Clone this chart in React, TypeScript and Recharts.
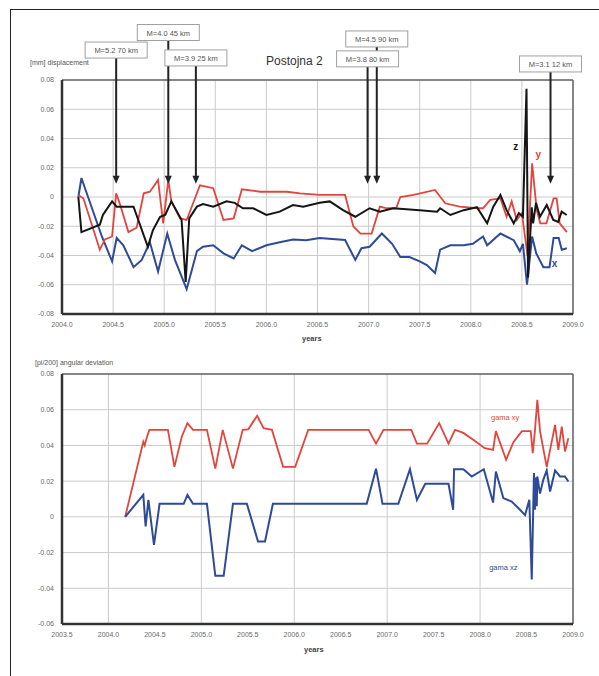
import React from 'react'
import { LineChart, Line, XAxis, YAxis, CartesianGrid, ReferenceLine, ReferenceDot } from 'recharts'

type Pt = [number, number]

// [year, displacement mm]
const dispX: Pt[] = [
  [2004.16, 0], [2004.19, 0.013], [2004.39, -0.027], [2004.49, -0.044], [2004.535, -0.028],
  [2004.6, -0.033], [2004.7, -0.048], [2004.78, -0.043], [2004.86, -0.031], [2004.94, -0.051],
  [2005.03, -0.025], [2005.105, -0.043], [2005.22, -0.063], [2005.32, -0.037], [2005.38, -0.034],
  [2005.48, -0.033], [2005.58, -0.0385], [2005.68, -0.042], [2005.76, -0.033], [2005.86, -0.037],
  [2006.0, -0.033], [2006.13, -0.031], [2006.26, -0.029], [2006.39, -0.0295], [2006.52, -0.028],
  [2006.77, -0.0294], [2006.87, -0.043], [2006.93, -0.035], [2007.01, -0.034], [2007.13, -0.025],
  [2007.23, -0.032], [2007.31, -0.041], [2007.4, -0.041], [2007.5, -0.044], [2007.57, -0.0465],
  [2007.65, -0.052], [2007.7, -0.036], [2007.8, -0.033], [2007.93, -0.033], [2008.02, -0.032],
  [2008.12, -0.027], [2008.16, -0.033], [2008.29, -0.025], [2008.42, -0.0295], [2008.48, -0.037],
  [2008.51, -0.032], [2008.55, -0.06], [2008.6, -0.027], [2008.64, -0.0385], [2008.71, -0.048],
  [2008.77, -0.048], [2008.81, -0.028], [2008.86, -0.028], [2008.89, -0.036], [2008.94, -0.035],
]

const dispY: Pt[] = [
  [2004.16, 0.0014], [2004.21, -0.001], [2004.37, -0.036], [2004.42, -0.029], [2004.49, -0.027],
  [2004.53, 0.0025], [2004.57, -0.0055], [2004.65, -0.024], [2004.73, -0.021], [2004.8, 0.0025],
  [2004.86, 0.0036], [2004.94, 0.0116], [2004.99, -0.018], [2005.04, 0.0116], [2005.07, -0.003],
  [2005.155, -0.0146], [2005.22, -0.0157], [2005.35, 0.008], [2005.48, 0.006], [2005.58, -0.0157],
  [2005.68, -0.0146], [2005.76, 0.0053], [2005.94, 0.0036], [2006.2, 0.0036], [2006.33, 0.0025],
  [2006.52, 0.0014], [2006.77, 0.0014], [2006.85, -0.02], [2006.92, -0.025], [2007.03, -0.025],
  [2007.11, -0.0066], [2007.18, -0.0077], [2007.27, -0.0077], [2007.31, 0], [2007.44, 0.0014],
  [2007.65, 0.0048], [2007.75, -0.0043], [2007.89, -0.0066], [2008.06, -0.0077], [2008.12, -0.0077],
  [2008.19, -0.002], [2008.29, -0.001], [2008.35, -0.0135], [2008.4, -0.003], [2008.45, -0.0157],
  [2008.5, -0.011], [2008.555, -0.04], [2008.6, 0.023], [2008.645, -0.009], [2008.68, -0.018],
  [2008.74, -0.018], [2008.81, -0.001], [2008.84, -0.001], [2008.87, -0.018], [2008.94, -0.024],
]

const dispZ: Pt[] = [
  [2004.16, 0], [2004.19, -0.024], [2004.37, -0.019], [2004.4, -0.0123], [2004.49, -0.003],
  [2004.535, -0.0066], [2004.7, -0.0066], [2004.84, -0.034], [2004.89, -0.0226], [2004.96, -0.0135],
  [2005.01, -0.0123], [2005.07, -0.003], [2005.17, -0.0157], [2005.21, -0.058], [2005.245, -0.0146],
  [2005.32, -0.0066], [2005.38, -0.0048], [2005.48, -0.0066], [2005.61, -0.003], [2005.69, -0.004],
  [2005.77, -0.0077], [2005.87, -0.0077], [2006.0, -0.0123], [2006.13, -0.01], [2006.26, -0.0055],
  [2006.36, -0.0066], [2006.52, -0.004], [2006.62, -0.003], [2006.75, -0.009], [2006.87, -0.0135],
  [2007.01, -0.0077], [2007.11, -0.01], [2007.24, -0.0077], [2007.5, -0.009], [2007.67, -0.01],
  [2007.7, -0.0077], [2007.8, -0.0123], [2007.93, -0.009], [2008.06, -0.007], [2008.16, -0.018],
  [2008.22, -0.0066], [2008.29, 0.0014], [2008.35, -0.009], [2008.42, -0.018], [2008.47, -0.011],
  [2008.51, -0.0135], [2008.545, 0.074], [2008.56, -0.055], [2008.596, -0.007], [2008.61, -0.018],
  [2008.638, -0.004], [2008.677, -0.0135], [2008.743, -0.0055], [2008.807, -0.0157], [2008.856, -0.017],
  [2008.889, -0.01], [2008.938, -0.0123],
]

// [year, angular deviation pi/200]
const gamaXY: Pt[] = [
  [2004.18, 0], [2004.375, 0.042], [2004.39, 0.04], [2004.41, 0.044], [2004.44, 0.0487],
  [2004.64, 0.0487], [2004.71, 0.028], [2004.79, 0.045], [2004.85, 0.0525], [2004.91, 0.0487],
  [2005.06, 0.0487], [2005.15, 0.027], [2005.23, 0.0487], [2005.34, 0.027], [2005.445, 0.0487],
  [2005.505, 0.049], [2005.6, 0.0566], [2005.67, 0.0497], [2005.76, 0.0487], [2005.88, 0.028],
  [2006.01, 0.028], [2006.15, 0.0487], [2006.8, 0.0487], [2006.88, 0.041], [2006.96, 0.0487],
  [2007.26, 0.0487], [2007.32, 0.041], [2007.43, 0.041], [2007.56, 0.0525], [2007.66, 0.041],
  [2007.73, 0.0487], [2007.82, 0.047], [2007.93, 0.043], [2008.05, 0.0385], [2008.14, 0.0375],
  [2008.17, 0.048], [2008.28, 0.032], [2008.36, 0.042], [2008.45, 0.048], [2008.545, 0.048],
  [2008.567, 0.0357], [2008.59, 0.048], [2008.616, 0.0655], [2008.645, 0.048], [2008.717, 0.028],
  [2008.807, 0.0515], [2008.842, 0.0375], [2008.879, 0.0505], [2008.914, 0.0366], [2008.95, 0.044],
]

const gamaXZ: Pt[] = [
  [2004.18, 0], [2004.375, 0.0123], [2004.4, -0.0054], [2004.43, 0.0095], [2004.49, -0.0157],
  [2004.55, 0.0073], [2004.81, 0.0073], [2004.85, 0.0123], [2004.91, 0.0073], [2005.06, 0.0073],
  [2005.15, -0.033], [2005.24, -0.033], [2005.34, 0.0073], [2005.49, 0.0073], [2005.61, -0.0138],
  [2005.685, -0.0138], [2005.77, 0.0073], [2006.78, 0.0073], [2006.88, 0.027], [2006.95, 0.0073],
  [2007.12, 0.0073], [2007.245, 0.0267], [2007.32, 0.0095], [2007.41, 0.0185], [2007.66, 0.0185],
  [2007.71, 0.004], [2007.72, 0.0267], [2007.82, 0.0267], [2007.91, 0.0226], [2008.04, 0.0267],
  [2008.14, 0.008], [2008.17, 0.0254], [2008.25, 0.0105], [2008.34, 0.0086], [2008.43, 0.004],
  [2008.484, 0.001], [2008.53, 0.0095], [2008.556, -0.035], [2008.58, 0.0245], [2008.59, 0.004],
  [2008.602, 0.022], [2008.61, 0.006], [2008.616, 0.0226], [2008.645, 0.013], [2008.68, 0.0207],
  [2008.717, 0.026], [2008.753, 0.0142], [2008.807, 0.026], [2008.86, 0.0226], [2008.914, 0.0226],
  [2008.95, 0.0198],
]

const topYears = [2004.0, 2004.5, 2005.0, 2005.5, 2006.0, 2006.5, 2007.0, 2007.5, 2008.0, 2008.5, 2009.0]
const bottomYears = [2003.5, 2004.0, 2004.5, 2005.0, 2005.5, 2006.0, 2006.5, 2007.0, 2007.5, 2008.0, 2008.5, 2009.0]
const displacementTicks = [-0.08, -0.06, -0.04, -0.02, 0, 0.02, 0.04, 0.06, 0.08]
const angularTicks = [-0.06, -0.04, -0.02, 0, 0.02, 0.04, 0.06, 0.08]

// earthquakes: label, year, top of arrow (mm scale)
const quakes = [
  { label: 'M=5.2 70 km', year: 2004.53, top: 0.095 },
  { label: 'M=4.0 45 km', year: 2005.04, top: 0.107 },
  { label: 'M=3.9 25 km', year: 2005.31, top: 0.0896 },
  { label: 'M=4.5 90 km', year: 2007.08, top: 0.1026 },
  { label: 'M=3.8 80 km', year: 2006.99, top: 0.089 },
  { label: 'M=3.1 12 km', year: 2008.78, top: 0.0855 },
]
const arrowTip = 0.009

const rows = (pts: Pt[]) => pts.map(([year, value]) => ({ year, value }))

const FONT = '"Liberation Sans", Arial, sans-serif'
const RED = '#e2453d'
const BLUE = '#2f4b98'
const tickStyle = { fontSize: 7, fill: '#6a6a6a', fontFamily: FONT }
const fmtY = (v: number) => (v === 0 ? '0' : v.toFixed(2))
const fmtX = (v: number) => v.toFixed(1)

const QuakeBox = (label: string) => (props: any) => {
  const { cx, cy } = props
  return (
    <g>
      <rect x={cx - 31} y={cy - 16} width={62} height={16} fill="#fff" stroke="#a0a0a0" />
      <text x={cx} y={cy - 5} textAnchor="middle" fontSize={7.5} fill="#555" fontFamily={FONT}>
        {label}
      </text>
    </g>
  )
}

const ArrowHead = (props: any) => {
  const { cx, cy } = props
  return <polygon points={`${cx - 3.5},${cy - 8} ${cx + 3.5},${cy - 8} ${cx},${cy}`} fill="#222" />
}

const TextMark = (text: string, color: string, size: number, bold = false) => (props: any) => (
  <text x={props.cx} y={props.cy} textAnchor="middle" fontSize={size} fill={color}
    fontWeight={bold ? 'bold' : 'normal'} fontFamily={FONT}>
    {text}
  </text>
)

const overlay = (left: number, top: number, size: number, extra: React.CSSProperties = {}) => ({
  position: 'absolute' as const, left, top, fontSize: size, fontFamily: FONT, color: '#555',
  whiteSpace: 'nowrap' as const, lineHeight: 1, ...extra,
})

export default function App() {
  return (
    <div style={{ position: 'absolute', left: 0, top: 0, width: 599, height: 676, background: '#fff', overflow: 'hidden' }}>
      {/* page frame */}
      <div style={{ position: 'absolute', left: 10, top: 9, width: 600, height: 680, borderLeft: '1.5px solid #222', borderTop: '1.5px solid #222' }} />

      <div style={{ position: 'absolute', left: 0, top: 0 }}>
        <LineChart width={599} height={345} margin={{ top: 80, right: 26, bottom: 11, left: 0 }}>
          <CartesianGrid stroke="#cbcbcb" />
          <XAxis dataKey="year" type="number" domain={[2004, 2009]} ticks={topYears} tickFormatter={fmtX}
            allowDataOverflow tick={tickStyle} tickLine={false} axisLine={{ stroke: '#333', strokeWidth: 2.5 }} height={20} />
          <YAxis type="number" domain={[-0.08, 0.08]} ticks={displacementTicks} tickFormatter={fmtY}
            allowDataOverflow tick={tickStyle} tickLine={false} axisLine={{ stroke: '#333', strokeWidth: 2.5 }} width={62} />
          <ReferenceLine y={0.08} stroke="#666" strokeWidth={1.5} />
          <ReferenceLine x={2009} stroke="#666" strokeWidth={1.5} />
          <Line data={rows(dispX)} dataKey="value" stroke={BLUE} strokeWidth={2} dot={false} isAnimationActive={false} />
          <Line data={rows(dispY)} dataKey="value" stroke={RED} strokeWidth={1.8} dot={false} isAnimationActive={false} />
          <Line data={rows(dispZ)} dataKey="value" stroke="#151515" strokeWidth={2} dot={false} isAnimationActive={false} />
          {quakes.map((q) => (
            <ReferenceLine key={'l' + q.label} ifOverflow="visible" stroke="#222" strokeWidth={2}
              segment={[{ x: q.year, y: q.top }, { x: q.year, y: arrowTip + 0.004 }]} />
          ))}
          {quakes.map((q) => (
            <ReferenceDot key={'a' + q.label} x={q.year} y={arrowTip} ifOverflow="visible" shape={ArrowHead} />
          ))}
          {quakes.map((q) => (
            <ReferenceDot key={'b' + q.label} x={q.year} y={q.top} ifOverflow="visible" shape={QuakeBox(q.label)} />
          ))}
          <ReferenceDot x={2008.44} y={0.032} ifOverflow="visible" shape={TextMark('z', '#111', 10, true)} />
          <ReferenceDot x={2008.66} y={0.027} ifOverflow="visible" shape={TextMark('y', RED, 10, true)} />
          <ReferenceDot x={2008.82} y={-0.048} ifOverflow="visible" shape={TextMark('x', BLUE, 10, true)} />
        </LineChart>
      </div>

      <div style={{ position: 'absolute', left: 0, top: 345 }}>
        <LineChart width={599} height={331} margin={{ top: 29, right: 26, bottom: 32, left: 0 }}>
          <CartesianGrid stroke="#cbcbcb" />
          <XAxis dataKey="year" type="number" domain={[2003.5, 2009]} ticks={bottomYears} tickFormatter={fmtX}
            allowDataOverflow tick={tickStyle} tickLine={false} axisLine={{ stroke: '#333', strokeWidth: 2.5 }} height={20} />
          <YAxis type="number" domain={[-0.06, 0.08]} ticks={angularTicks} tickFormatter={fmtY}
            allowDataOverflow tick={tickStyle} tickLine={false} axisLine={{ stroke: '#333', strokeWidth: 2.5 }} width={62} />
          <ReferenceLine y={0.08} stroke="#666" strokeWidth={1.5} />
          <ReferenceLine x={2009} stroke="#666" strokeWidth={1.5} />
          <Line data={rows(gamaXY)} dataKey="value" stroke={RED} strokeWidth={1.8} dot={false} isAnimationActive={false} />
          <Line data={rows(gamaXZ)} dataKey="value" stroke={BLUE} strokeWidth={2} dot={false} isAnimationActive={false} />
          <ReferenceDot x={2008.27} y={0.0545} ifOverflow="visible" shape={TextMark('gama xy', RED, 7.5)} />
          <ReferenceDot x={2008.25} y={-0.0295} ifOverflow="visible" shape={TextMark('gama xz', BLUE, 7.5)} />
        </LineChart>
      </div>

      <div style={overlay(266, 55, 12, { color: '#333' })}>Postojna 2</div>
      <div style={overlay(30, 59, 7)}>[mm] displacement</div>
      <div style={overlay(302, 335, 7.5, { fontWeight: 'bold', color: '#444' })}>years</div>
      <div style={overlay(35, 359, 7)}>[pi/200] angular deviation</div>
      <div style={overlay(304, 646, 7.5, { fontWeight: 'bold', color: '#444' })}>years</div>
    </div>
  )
}
